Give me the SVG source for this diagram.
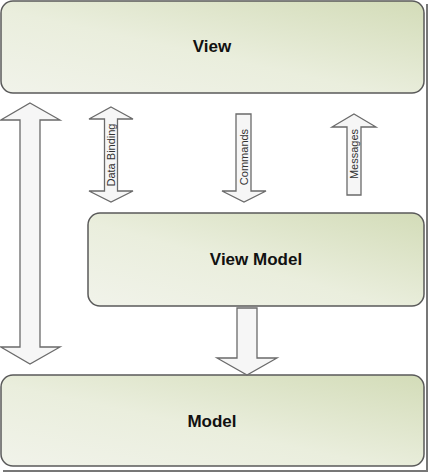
<svg xmlns="http://www.w3.org/2000/svg" width="431" height="474" viewBox="0 0 431 474">
<defs>
<linearGradient id="g" x1="0" y1="1" x2="1" y2="0">
<stop offset="0" stop-color="#f1f3ea"/>
<stop offset="0.45" stop-color="#eaeedd"/>
<stop offset="1" stop-color="#d3dcb8"/>
</linearGradient>
<style>
.box{fill:url(#g);stroke:#5a5a5a;stroke-width:1.5}
.arr{fill:#f6f6f6;stroke:#6a6a6a;stroke-width:1.3;stroke-linejoin:miter}
.t{font-family:"Liberation Sans",Arial,sans-serif;font-weight:bold;font-size:17px;fill:#111;text-anchor:middle}
.l{font-family:"Liberation Sans",Arial,sans-serif;font-size:11px;fill:#333;text-anchor:middle}
</style>
</defs>
<rect width="431" height="474" fill="#fff"/>
<g id="shadow" fill="none" stroke="#777" stroke-width="2">
<path d="M427 4 V471 H3"/>
</g>
<g id="view"><rect class="box" x="1" y="1" width="423" height="92" rx="12"/><text class="t" x="212" y="52">View</text></g>
<g id="viewmodel"><rect class="box" x="88" y="213" width="336" height="93" rx="12"/><text class="t" x="256" y="265">View Model</text></g>
<g id="model"><rect class="box" x="1" y="375" width="423" height="91" rx="12"/><text class="t" x="212" y="427">Model</text></g>
<g id="connectors">
<polygon class="arr" points="30,103 60,120 40,120 40,347 60,347 30,364 0.8,347 20,347 20,120 0.8,120"/>
<polygon class="arr" points="111,107 133,119 117.5,119 117.5,191 133,191 111,202 89,191 104.5,191 104.5,119 89,119"/>
<polygon class="arr" points="236,114 251,114 251,191 266,191 244,202 222,191 236,191"/>
<polygon class="arr" points="354,114 376,127 361,127 361,195 347,195 347,127 332,127"/>
<polygon class="arr" points="237,308 257,308 257,358 277,358 247,375 217,358 237,358"/>
<text class="l" transform="translate(115,155) rotate(-90)">Data Binding</text>
<text class="l" transform="translate(247.5,157) rotate(-90)">Commands</text>
<text class="l" transform="translate(358,154) rotate(-90)">Messages</text>
</g>
</svg>
